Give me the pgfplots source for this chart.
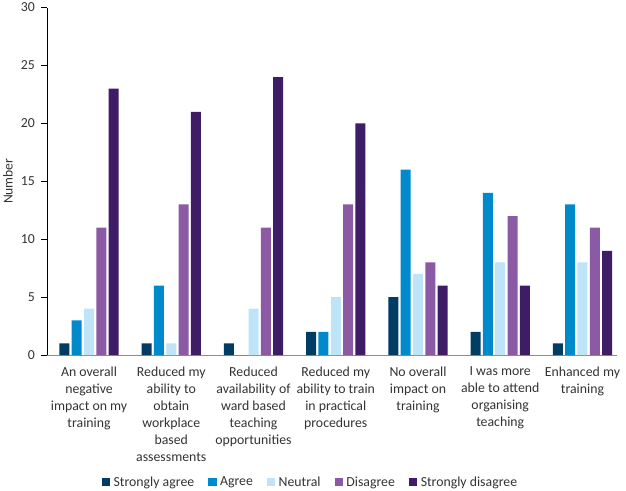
\documentclass[border=0pt]{standalone}
\usepackage{fontspec}
\setmainfont{Carlito}
\usepackage{pgfplots}
\pgfplotsset{compat=1.18}
\definecolor{csa}{HTML}{003C64}
\definecolor{cag}{HTML}{008ACB}
\definecolor{cne}{HTML}{BFE4F8}
\definecolor{cdi}{HTML}{8C5AA5}
\definecolor{csd}{HTML}{3E1C66}
\definecolor{txt}{HTML}{333333}
\definecolor{axg}{HTML}{8C8C8C}
\begin{document}
\begin{tikzpicture}
\begin{axis}[
  scale only axis, width=569.5pt, height=347.5pt,
  ymin=0, ymax=30, ytick={0,5,...,30},
  xmin=-0.505, xmax=6.42, xtick={0,...,6},
  xticklabels={{An overall\\negative\\impact on my\\training},
               {Reduced my\\ability to\\obtain\\workplace\\based\\assessments},
               {Reduced\\availability of\\ward based\\teaching\\opportunities},
               {Reduced my\\ability to train\\in practical\\procedures},
               {No overall\\impact on\\training},
               {I was more\\able to attend\\organising\\teaching},
               {Enhanced my\\training}},
  axis lines*=left,
  x axis line style={axg, line width=1pt},
  y axis line style={black, line width=0.8pt},
  major x tick style={draw=none},
  ytick style={black, line width=0.8pt},
  tick align=outside, major tick length=6pt,
  ticklabel style={font=\fontsize{13.8}{17}\selectfont, text=txt},
  yticklabel style={xshift=-3pt},
  xticklabel style={align=center, yshift=-2pt},
  /pgf/number format/assume math mode=true,
  ylabel={Number},
  ylabel style={at={(axis description cs:0,0.5)}, yshift=39.5pt, anchor=center, font=\fontsize{13.6}{17}\selectfont, text=txt},
  ybar=2.3pt, bar width=10pt,
  legend columns=5,
  legend style={at={(axis description cs:0.4618,0)}, yshift=-127pt, anchor=center, draw=none, fill=none,
    font=\fontsize{13.8}{17}\selectfont, text=txt,
    /tikz/every odd column/.append style={column sep=1.5pt},
    /tikz/every even column/.append style={column sep=12pt}},
  legend image code/.code={\fill[#1] (0pt,-4pt) rectangle (8.3pt,4.3pt);},
]
\addplot[fill=csa, draw=none] coordinates {(0,1) (1,1) (2,1) (3,2) (4,5) (5,2) (6,1)};
\addplot[fill=cag, draw=none] coordinates {(0,3) (1,6) (2,0) (3,2) (4,16) (5,14) (6,13)};
\addplot[fill=cne, draw=none] coordinates {(0,4) (1,1) (2,4) (3,5) (4,7) (5,8) (6,8)};
\addplot[fill=cdi, draw=none] coordinates {(0,11) (1,13) (2,11) (3,13) (4,8) (5,12) (6,11)};
\addplot[fill=csd, draw=none] coordinates {(0,23) (1,21) (2,24) (3,20) (4,6) (5,6) (6,9)};
\legend{Strongly agree, Agree, Neutral, Disagree, Strongly disagree}
\end{axis}
\pgfresetboundingbox
\path (-47.5pt,-135pt) rectangle (578.5pt,355pt);
\end{tikzpicture}
\end{document}
